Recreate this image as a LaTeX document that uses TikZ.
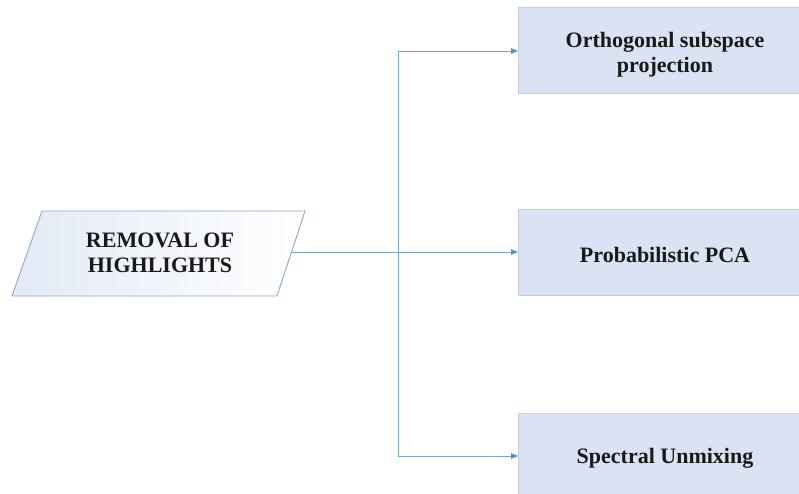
\documentclass[tikz,border=0pt]{standalone}
\usepackage{fontspec}
\setmainfont{Liberation Serif}
\usetikzlibrary{arrows.meta}
\definecolor{boxfill}{RGB}{218,227,243}
\definecolor{boxline}{RGB}{198,206,222}
\definecolor{conn}{RGB}{125,165,200}
\definecolor{arrowc}{RGB}{85,145,200}
\definecolor{paraline}{RGB}{140,170,205}
\definecolor{paraleft}{RGB}{226,234,246}
\begin{document}
\begin{tikzpicture}[x=1pt,y=-1pt,
  txt/.style={font=\bfseries\fontsize{22}{25}\selectfont, text=black!90, align=center},
  outbox/.style={txt, draw=boxline, fill=boxfill, line width=0.8pt, minimum width=294pt, minimum height=86pt, inner sep=0pt, anchor=west},
  conline/.style={draw=conn, line width=0.9pt},
  arr/.style={conline, -{Triangle[length=7pt,width=5.5pt,color=arrowc,fill=arrowc]}}
]
\clip (0,0) rectangle (799,494);
\useasboundingbox (0,0) rectangle (799,494);
\fill[white] (0,0) rectangle (799,494);
% parallelogram
\coordinate (pTL) at (42,211);
\coordinate (pTR) at (305,211);
\coordinate (pBR) at (277,296);
\coordinate (pBL) at (12,296);
\shade[left color=paraleft, right color=white] (pTL) -- (pTR) -- (pBR) -- (pBL) -- cycle;
\draw[paraline, line width=0.9pt] (pTL) -- (pTR) -- (pBR) -- (pBL) -- cycle;
\node[txt] (rem) at (160,253) {REMOVAL OF\\HIGHLIGHTS};
\coordinate (remR) at (291.5,252);
% boxes
\node[outbox] (b1) at (518,50) {};
\node[txt] (t1) at (665,55) {Orthogonal subspace\\projection};
\node[outbox] (b2) at (518,252) {};
\node[txt] (t2) at (665,255) {Probabilistic PCA};
\node[outbox] (b3) at (518,456) {};
\node[txt] (t3) at (665,458) {Spectral Unmixing};
% connectors
\coordinate (v1) at (398,51);
\coordinate (v3) at (398,456);
\draw[arr] (remR) -- (b2.west);
\draw[conline] (v1) -- (v3);
\draw[arr] (v1) -- (b1.west |- v1);
\draw[arr] (v3) -- (b3.west);
\end{tikzpicture}
\end{document}
